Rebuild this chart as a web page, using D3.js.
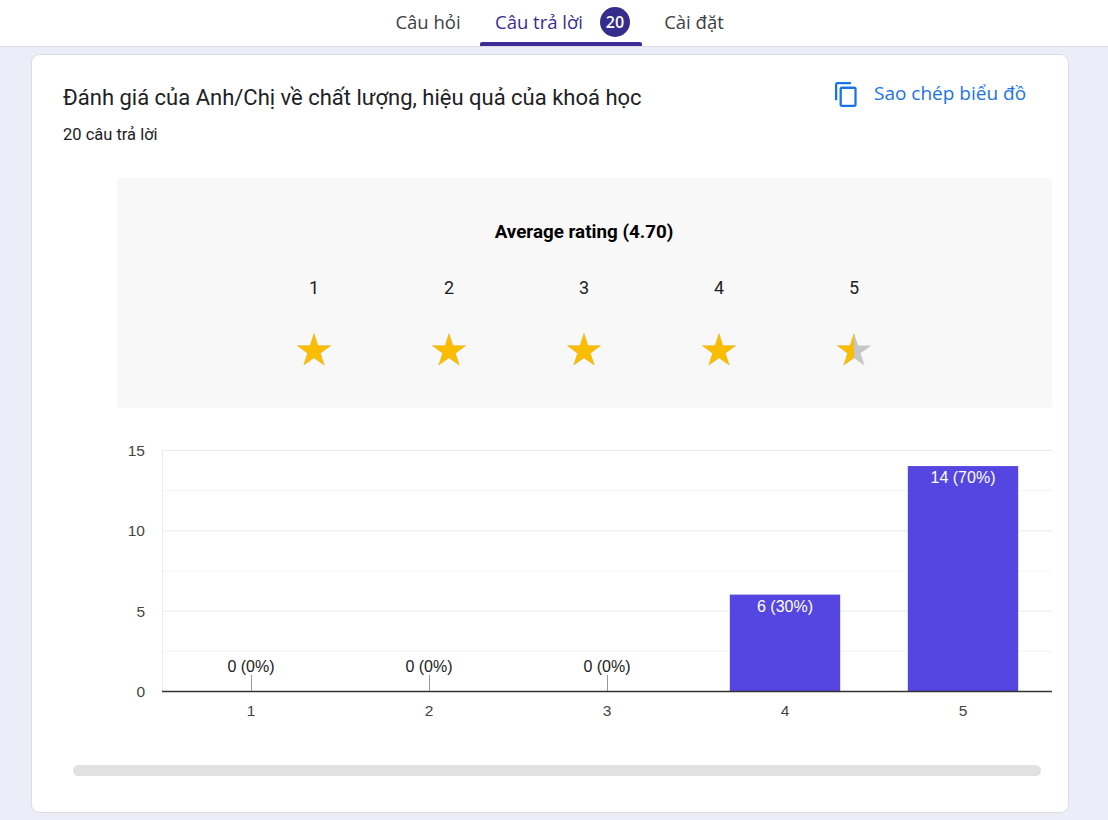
<!DOCTYPE html>
<head>
  <meta charset="utf-8">
  <style>
    body { margin: 0; background: #ededf9; }
    svg text { font-family: Roboto, "Noto Sans", sans-serif; }
    .tab { font-family: "Open Sans", Roboto, sans-serif; font-size: 18.5px; font-weight: 500; }
    .axis text { font-family: "Liberation Sans", Arial, sans-serif; font-size: 15.5px; fill: #444; }
  </style>
</head>
<body>
  <script src="https://cdn.jsdelivr.net/npm/d3@7"></script>
  <script>
    // chart values
    const ratings = ["1", "2", "3", "4", "5"];
    const counts = [0, 0, 0, 6, 14];
    const yTicks = [0, 5, 10, 15];
    const minorTicks = [2.5, 7.5, 12.5];
    const averageRating = 4.70;
    const totalResponses = 20;
    const tabs = ["Câu hỏi", "Câu trả lời", "Cài đặt"];
    const title = "Đánh giá của Anh/Chị về chất lượng, hiệu quả của khoá học";

    const width = 1108;
    const height = 820;
    const plot = {left: 162, right: 1052, top: 450, bottom: 691};

    const svg = d3.select("body").append("svg")
      .attr("width", width)
      .attr("height", height);

    svg.append("rect").attr("width", width).attr("height", height).attr("fill", "#ededf9");

    //---------------------------- HEADER TABS ----------------------------//
    svg.append("rect").attr("width", width).attr("height", 46).attr("fill", "#ffffff");
    svg.append("rect").attr("y", 46).attr("width", width).attr("height", 1).attr("fill", "#dadce0");

    const tabX = [428, 539, 694];
    svg.selectAll(".tab").data(tabs).enter().append("text")
      .attr("class", "tab")
      .attr("x", (d, i) => tabX[i])
      .attr("y", 28.5)
      .attr("text-anchor", "middle")
      .attr("fill", (d, i) => i === 1 ? "#3b2d93" : "#3c4043")
      .text(d => d);

    svg.append("circle").attr("cx", 615).attr("cy", 22).attr("r", 15).attr("fill", "#352c8c");
    svg.append("text").attr("class", "tab")
      .attr("x", 615).attr("y", 28).attr("text-anchor", "middle")
      .attr("fill", "#fff").style("font-size", "16px").style("font-weight", "600")
      .text(totalResponses);
    svg.append("path")
      .attr("d", "M480,46 V44 Q480,42 482,42 H640 Q642,42 642,44 V46 Z")
      .attr("fill", "#3b2d93");

    //------------------------------- CARD --------------------------------//
    svg.append("rect")
      .attr("x", 31.5).attr("y", 54.5).attr("width", 1037).attr("height", 758)
      .attr("rx", 8).attr("fill", "#fff").attr("stroke", "#dadce0");

    svg.append("text").attr("x", 63).attr("y", 105)
      .attr("fill", "#202124").style("font-size", "22px")
      .text(title);
    svg.append("text").attr("x", 63).attr("y", 140)
      .attr("fill", "#202124").style("font-size", "16.5px")
      .text(totalResponses + " câu trả lời");

    // copy chart button
    svg.append("path")
      .attr("d", "M16 1H4c-1.1 0-2 .9-2 2v14h2V3h12V1zm3 4H8c-1.1 0-2 .9-2 2v14c0 1.1.9 2 2 2h11c1.1 0 2-.9 2-2V7c0-1.1-.9-2-2-2zm0 16H8V7h11v14z")
      .attr("transform", "translate(832.7,80.9) scale(1.14)")
      .attr("fill", "#1a73e8");
    svg.append("text").attr("class", "tab").attr("x", 874).attr("y", 100)
      .attr("fill", "#1a73e8").style("font-size", "19px")
      .text("Sao chép biểu đồ");

    //--------------------------- RATING PANEL ----------------------------//
    svg.append("rect")
      .attr("x", 117).attr("y", 178).attr("width", 935).attr("height", 230)
      .attr("rx", 4).attr("fill", "#f8f8f8");

    svg.append("text").attr("x", 584).attr("y", 238)
      .attr("text-anchor", "middle").attr("fill", "#000")
      .style("font-size", "18.8px").style("font-weight", "bold")
      .text("Average rating (" + averageRating.toFixed(2) + ")");

    const starX = d3.scalePoint().domain(ratings).range([314, 854]);
    svg.selectAll(".star-num").data(ratings).enter().append("text")
      .attr("x", d => starX(d)).attr("y", 294)
      .attr("text-anchor", "middle").attr("fill", "#202124")
      .style("font-size", "18px")
      .text(d => d);

    const starPath = d3.symbol().type(d3.symbolStar).size(364)();
    // fraction filled per star, rounded to half stars
    const fill = ratings.map((d, i) => Math.max(0, Math.min(1, Math.round((averageRating - i) * 2) / 2)));
    const defs = svg.append("defs");
    ratings.forEach((d, i) => {
      defs.append("clipPath").attr("id", "clip" + i)
        .append("rect").attr("x", -20).attr("y", -20)
        .attr("width", 40 * fill[i]).attr("height", 40);
    });
    const stars = svg.selectAll(".star").data(ratings).enter().append("g")
      .attr("transform", d => "translate(" + starX(d) + ",351)");
    stars.append("path").attr("d", starPath).attr("fill", "#c4c6c9");
    stars.append("path").attr("d", starPath).attr("fill", "#fbbc04")
      .attr("clip-path", (d, i) => "url(#clip" + i + ")");

    //----------------------------- BAR CHART -----------------------------//
    const x = d3.scaleBand().domain(ratings).range([plot.left, plot.right]).paddingInner(0.38).paddingOuter(0.19);
    const y = d3.scaleLinear().domain([0, 15]).range([plot.bottom, plot.top]);

    const grid = svg.append("g");
    grid.selectAll(".minor").data(minorTicks).enter().append("line")
      .attr("x1", plot.left).attr("x2", plot.right)
      .attr("y1", d => y(d) + 0.5).attr("y2", d => y(d) + 0.5)
      .attr("stroke", "#f4f4f4");
    grid.selectAll(".major").data(yTicks).enter().append("line")
      .attr("x1", plot.left).attr("x2", plot.right)
      .attr("y1", d => y(d) + 0.5).attr("y2", d => y(d) + 0.5)
      .attr("stroke", "#ebebeb");
    grid.append("line")
      .attr("x1", plot.left + 0.5).attr("x2", plot.left + 0.5)
      .attr("y1", plot.top).attr("y2", plot.bottom)
      .attr("stroke", "#ebebeb");

    svg.append("g").attr("class", "axis")
      .attr("transform", "translate(" + (plot.left - 17) + ",0)")
      .call(d3.axisLeft(y).tickValues(yTicks).tickSize(0).tickPadding(0))
      .call(g => g.select(".domain").remove())
      .selectAll("text").attr("dy", "0.35em");

    svg.append("g").attr("class", "axis")
      .attr("transform", "translate(0," + (plot.bottom + 8) + ")")
      .call(d3.axisBottom(x).tickSize(0).tickPadding(6))
      .call(g => g.select(".domain").remove())
      .selectAll("text").attr("fill", "#222");

    const bars = svg.selectAll(".bar").data(ratings).enter().append("g");
    bars.append("rect")
      .attr("x", d => x(d))
      .attr("y", (d, i) => y(counts[i]))
      .attr("width", x.bandwidth())
      .attr("height", (d, i) => y(0) - y(counts[i]))
      .attr("fill", "#5546e1");

    // zero-value stems
    bars.filter((d, i) => counts[i] === 0).append("line")
      .attr("x1", d => x(d) + x.bandwidth() / 2 + 0.5)
      .attr("x2", d => x(d) + x.bandwidth() / 2 + 0.5)
      .attr("y1", y(0) - 16).attr("y2", y(0))
      .attr("stroke", "#999");

    bars.append("text")
      .attr("x", d => x(d) + x.bandwidth() / 2)
      .attr("y", (d, i) => counts[i] === 0 ? y(0) - 19 : y(counts[i]) + 17)
      .attr("text-anchor", "middle")
      .attr("fill", (d, i) => counts[i] === 0 ? "#222" : "#fff")
      .style("font-family", "'Liberation Sans', Arial, sans-serif")
      .style("font-size", "16px")
      .text((d, i) => counts[i] + " (" + Math.round(counts[i] / totalResponses * 100) + "%)");

    svg.append("line")
      .attr("x1", plot.left).attr("x2", plot.right)
      .attr("y1", plot.bottom + 0.5).attr("y2", plot.bottom + 0.5)
      .attr("stroke", "#333").attr("stroke-width", 1.5);

    // horizontal scrollbar
    svg.append("rect")
      .attr("x", 73).attr("y", 765).attr("width", 968).attr("height", 11)
      .attr("rx", 5.5).attr("fill", "#e1e1e1");
  </script>
</body>
